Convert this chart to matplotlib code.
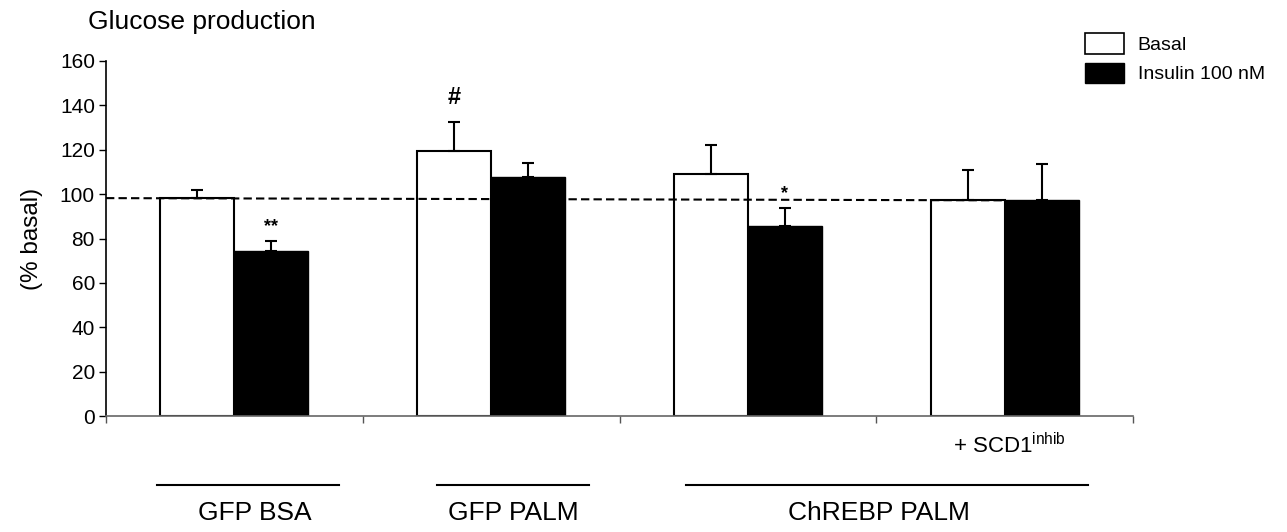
import numpy as np
import matplotlib
matplotlib.use("Agg")
from matplotlib import pyplot as plt
from matplotlib.patches import Patch
from matplotlib.transforms import blended_transform_factory

plt.rcParams["font.family"] = ["Liberation Sans", "DejaVu Sans"]

groups = ["GFP BSA", "GFP PALM", "ChREBP PALM", "ChREBP PALM + SCD1"]
basal = [98.2, 119.6, 109.0, 97.4]
basal_err = [3.6, 13.1, 13.3, 13.3]
insulin = [74.3, 107.8, 85.5, 97.4]
insulin_err = [4.4, 6.2, 8.2, 16.2]
marks_basal = ["", "#", "", ""]
marks_insulin = ["**", "", "*", ""]
ref_line = [98.2, 97.2]  # dashed basal reference, drawn across first 3.5 groups

W, H = 1287, 532
fig = plt.figure(figsize=(W / 100, H / 100), dpi=100)
ax = fig.add_axes([106 / W, 1 - 416 / H, (1133 - 106) / W, (416 - 61) / H])

x = np.arange(len(groups))
bw = 0.288
ax.bar(x - bw / 2, basal, bw, color="white", edgecolor="black", linewidth=1.5, zorder=2)
ax.bar(x + bw / 2, insulin, bw, color="black", edgecolor="black", linewidth=1.0, zorder=2)
ax.errorbar(x - bw / 2, basal, yerr=[np.zeros(4), basal_err], fmt="none",
            ecolor="black", elinewidth=1.5, capsize=4.5, capthick=1.5, zorder=3)
ax.errorbar(x + bw / 2, insulin, yerr=[np.zeros(4), insulin_err], fmt="none",
            ecolor="black", elinewidth=1.5, capsize=4.5, capthick=1.5, zorder=3)

for i in range(len(groups)):
    if marks_basal[i]:
        ax.text(x[i] - bw / 2, basal[i] + basal_err[i] + 11, marks_basal[i],
                ha="center", va="center", fontsize=17, fontweight="bold")
    if marks_insulin[i]:
        ax.text(x[i] + bw / 2, insulin[i] + insulin_err[i] + 6.5, marks_insulin[i],
                ha="center", va="center", fontsize=13, fontweight="bold")

ax.plot([-0.5, 3.0], ref_line, color="black", linestyle=(0, (4, 2)), linewidth=1.5, zorder=4)

ax.set_xlim(-0.5, 3.5)
ax.set_ylim(0, 160)
ax.set_yticks(np.arange(0, 161, 20))
ax.set_xticks(np.arange(-0.5, 3.6, 1))
ax.set_xticklabels([])
ax.tick_params(axis="y", labelsize=15, length=5, width=1, direction="out", pad=3)
ax.tick_params(axis="x", length=5, width=1, direction="out", color="#555555")
ax.spines["top"].set_visible(False)
ax.spines["right"].set_visible(False)
ax.spines["left"].set_linewidth(1.2)
ax.spines["bottom"].set_color("#666666")
ax.spines["bottom"].set_linewidth(1.2)

ax.set_ylabel("(% basal)", fontsize=17.5, labelpad=12)
fig.text(88 / W, 1 - 22 / H, "Glucose production", fontsize=19, ha="left", va="center")

# group labels under the axis
tr = blended_transform_factory(ax.transData, ax.transAxes)
lines = [(-0.30, 0.407), (0.788, 1.383), (1.76, 3.325)]
labels = [(0.08, "GFP BSA"), (1.088, "GFP PALM"), (2.51, "ChREBP PALM")]
for x0, x1 in lines:
    ax.plot([x0, x1], [-0.194, -0.194], color="black", linewidth=1.5,
            transform=tr, clip_on=False)
for xc, lab in labels:
    ax.text(xc, -0.273, lab, transform=tr, ha="center", va="center", fontsize=19)
ax.text(3.02, -0.082, r"+ SCD1$^{\mathregular{inhib}}$", transform=tr,
        ha="center", va="center", fontsize=16)

handles = [Patch(facecolor="white", edgecolor="black", linewidth=1.2, label="Basal"),
           Patch(facecolor="black", edgecolor="black", label="Insulin 100 nM")]
fig.legend(handles=handles, loc="upper left", bbox_to_anchor=(1085 / W, 1 - 33 / H),
           frameon=False, fontsize=14, handlelength=2.0, handleheight=1.25,
           handletextpad=0.7, labelspacing=0.45, borderpad=0, borderaxespad=0)

fig.savefig("out.png", dpi=100)
